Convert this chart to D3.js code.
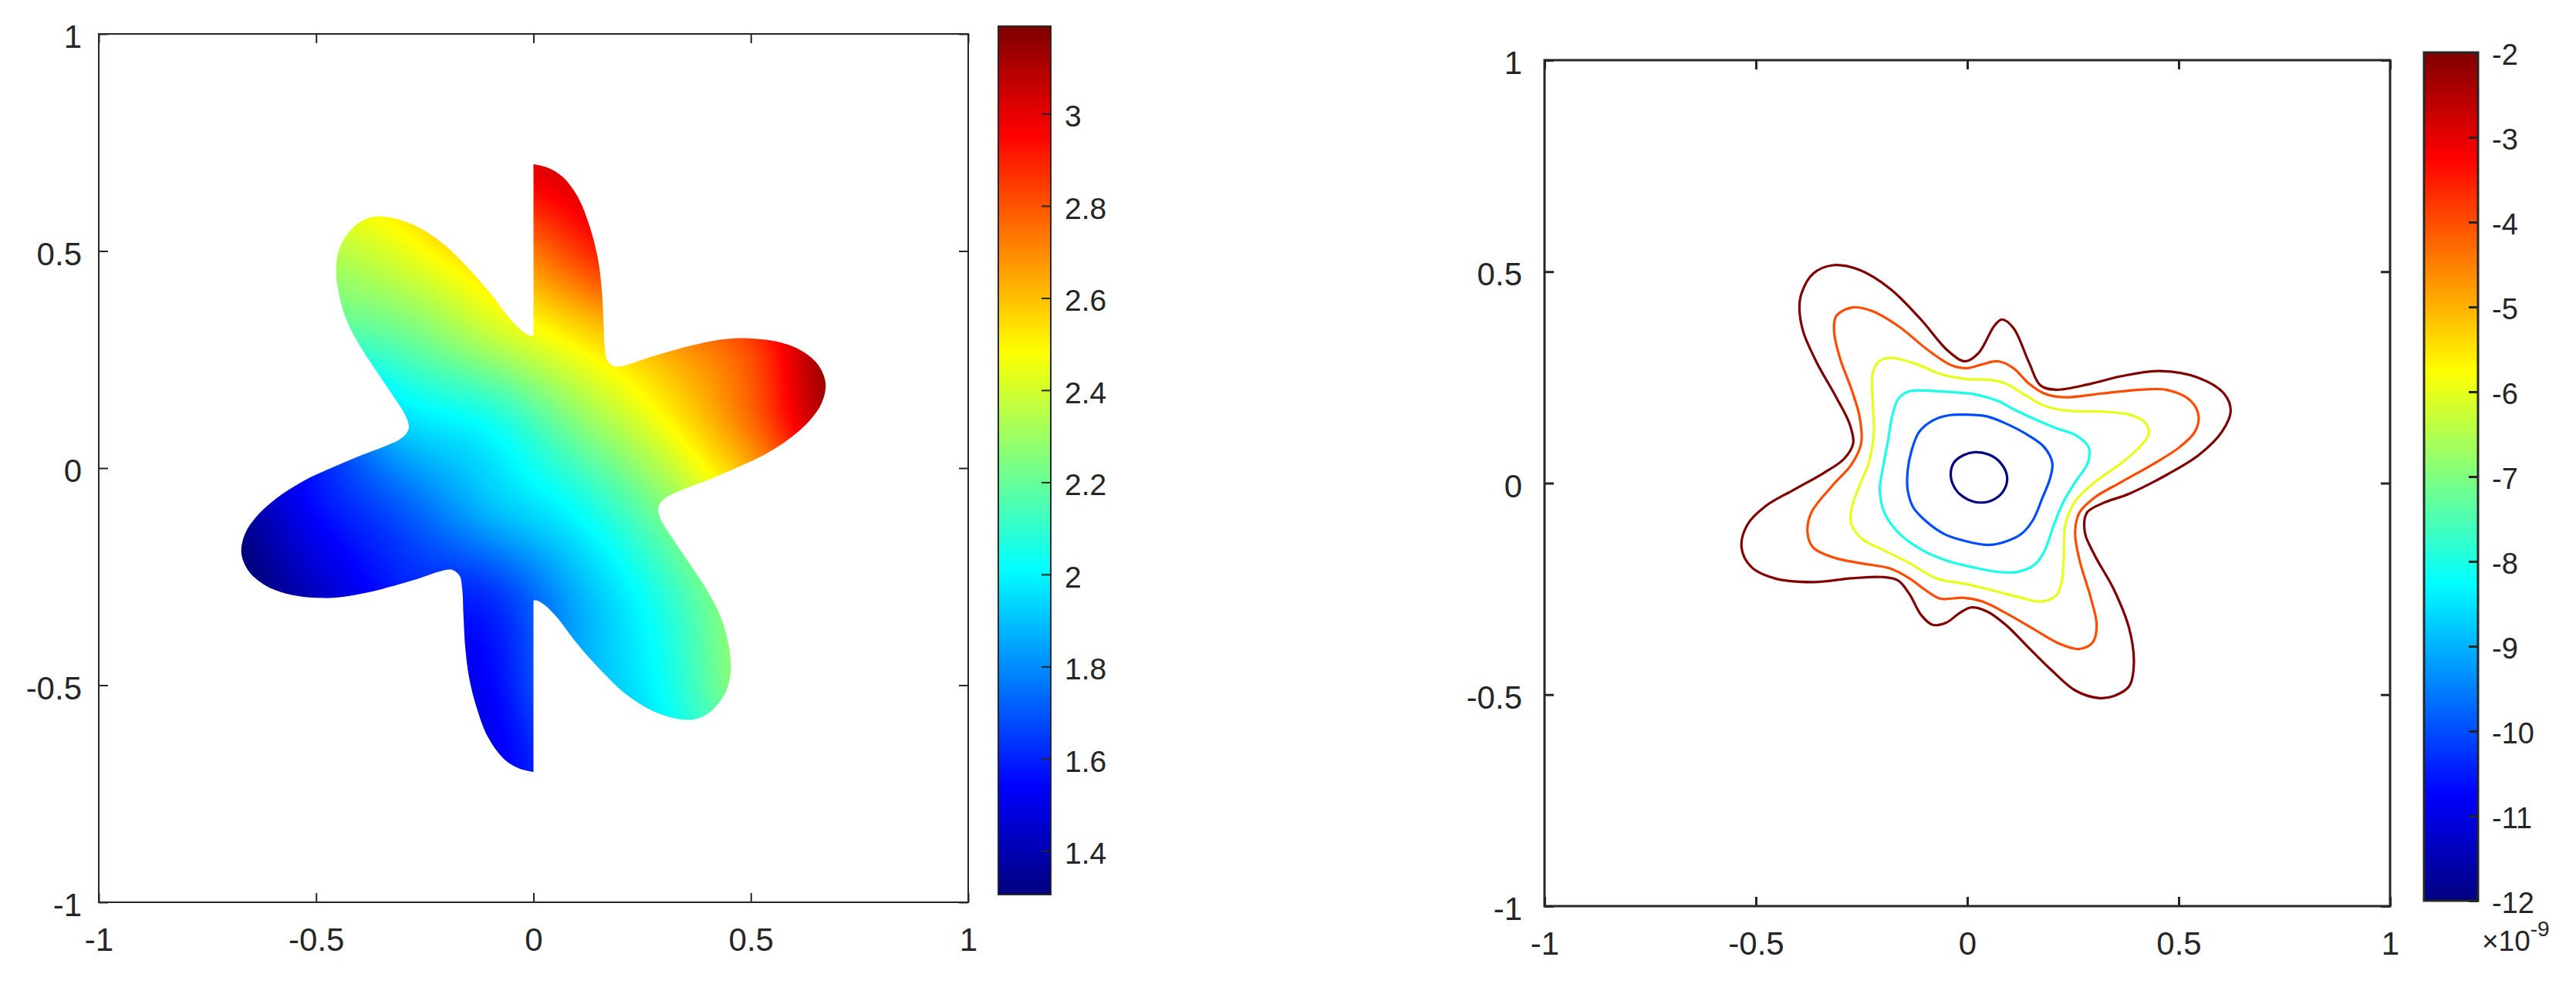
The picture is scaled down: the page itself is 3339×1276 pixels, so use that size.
<!DOCTYPE html>
<html><head><meta charset="utf-8">
<script src="https://cdn.jsdelivr.net/npm/d3@7"></script>
<style>
html,body{margin:0;padding:0;background:#fff;}
svg{display:block;}
text{font-family:"Liberation Sans",Arial,Helvetica,sans-serif;fill:#262626;}
</style></head><body>
<svg id="chart" width="3339" height="1276"></svg>
<script>
// ---------- data ----------
const axisTicks = [-1, -0.5, 0, 0.5, 1];
const axisTickLabels = ["-1", "-0.5", "0", "0.5", "1"];

// left panel: sampled field values (rows: y from 0.7 down to -0.7, cols: x from -0.7 to 0.7)
const fieldGridX = [-0.7, -0.5, -0.3, -0.1, 0.1, 0.3, 0.5, 0.7];
const fieldGridY = [0.7, 0.5, 0.3, 0.1, -0.1, -0.3, -0.5, -0.7];
const fieldValues = [
  [2.32, 2.50, 2.62, 2.95, 3.05, 3.20, 3.30, 3.40],
  [2.18, 2.32, 2.44, 2.62, 2.85, 3.05, 3.20, 3.35],
  [2.00, 2.12, 2.20, 2.36, 2.52, 2.68, 2.85, 3.20],
  [1.52, 1.67, 1.93, 2.03, 2.25, 2.47, 2.75, 3.12],
  [1.33, 1.55, 1.70, 1.88, 2.02, 2.24, 2.52, 2.80],
  [1.25, 1.42, 1.58, 1.62, 1.86, 2.08, 2.35, 2.58],
  [1.20, 1.30, 1.45, 1.54, 1.83, 2.03, 2.32, 2.55],
  [1.10, 1.20, 1.35, 1.50, 1.70, 1.98, 2.20, 2.45]
];
const fieldRange = [1.305, 3.19];
const fieldTicks = [1.4, 1.6, 1.8, 2, 2.2, 2.4, 2.6, 2.8, 3];
const fieldTickLabels = ["1.4", "1.6", "1.8", "2", "2.2", "2.4", "2.6", "2.8", "3"];

// domain boundary: right half (top slit -> bottom slit) and left half (bottom slit -> top slit)
const boundaryRight = [
  [0.000,0.700],[0.033,0.692],[0.068,0.670],[0.104,0.621],[0.130,0.554],[0.148,0.483],
  [0.157,0.412],[0.161,0.341],[0.164,0.279],[0.170,0.248],[0.188,0.234],[0.219,0.239],
  [0.263,0.254],[0.317,0.270],[0.379,0.286],[0.441,0.297],[0.494,0.299],[0.556,0.292],
  [0.610,0.274],[0.654,0.239],[0.672,0.195],[0.663,0.150],[0.636,0.110],[0.592,0.070],
  [0.530,0.030],[0.466,0.000],[0.400,-0.028],[0.342,-0.050],[0.302,-0.070],[0.287,-0.091],
  [0.293,-0.118],[0.320,-0.162],[0.359,-0.220],[0.401,-0.284],[0.432,-0.346],[0.449,-0.409],
  [0.454,-0.462],[0.444,-0.512],[0.414,-0.555],[0.385,-0.574],[0.353,-0.580],[0.287,-0.565],
  [0.218,-0.525],[0.155,-0.466],[0.097,-0.400],[0.055,-0.345],[0.025,-0.315],[0.008,-0.305],
  [0.000,-0.305]
];
const boundaryLeft = [
  [0.000,-0.700],[-0.033,-0.692],[-0.068,-0.670],[-0.104,-0.621],[-0.130,-0.554],[-0.148,-0.483],
  [-0.157,-0.412],[-0.161,-0.341],[-0.164,-0.279],[-0.170,-0.248],[-0.188,-0.234],[-0.219,-0.239],
  [-0.263,-0.254],[-0.317,-0.270],[-0.379,-0.286],[-0.441,-0.297],[-0.494,-0.299],[-0.556,-0.292],
  [-0.610,-0.274],[-0.654,-0.239],[-0.672,-0.195],[-0.663,-0.150],[-0.636,-0.110],[-0.592,-0.070],
  [-0.530,-0.030],[-0.466,0.000],[-0.400,0.028],[-0.342,0.050],[-0.302,0.070],[-0.287,0.091],
  [-0.293,0.118],[-0.320,0.162],[-0.359,0.220],[-0.401,0.284],[-0.432,0.346],[-0.449,0.409],
  [-0.454,0.462],[-0.444,0.512],[-0.414,0.555],[-0.385,0.574],[-0.353,0.580],[-0.287,0.565],
  [-0.218,0.525],[-0.155,0.466],[-0.097,0.400],[-0.055,0.345],[-0.025,0.315],[-0.008,0.305],
  [0.000,0.305]
];

// right panel: contour levels (x 1e-9) and traced contour lines
const contourLevels = [-12, -10, -8, -6, -4, -2];
const contourM12 = [[0.018,0.073],[0.050,0.068],[0.077,0.050],[0.094,0.016],[0.087,-0.016],[0.064,-0.038],[0.032,-0.046],[0.000,-0.038],[-0.026,-0.017],[-0.039,0.016],[-0.032,0.048],[-0.009,0.066]];
const contourM10 = [[-0.009,0.162],[0.046,0.158],[0.091,0.141],[0.146,0.112],[0.182,0.085],[0.201,0.048],[0.196,0.012],[0.178,-0.034],[0.155,-0.088],[0.128,-0.120],[0.091,-0.138],[0.050,-0.146],[0.000,-0.138],[-0.055,-0.120],[-0.100,-0.088],[-0.128,-0.057],[-0.141,-0.016],[-0.141,0.030],[-0.132,0.076],[-0.114,0.121],[-0.082,0.148],[-0.046,0.160]];
const contourM8 = [[-0.109,0.219],[-0.036,0.215],[0.018,0.210],[0.073,0.194],[0.109,0.175],[0.155,0.153],[0.210,0.130],[0.255,0.114],[0.287,0.085],[0.285,0.048],[0.255,0.002],[0.228,-0.043],[0.205,-0.098],[0.182,-0.162],[0.159,-0.193],[0.119,-0.210],[0.073,-0.210],[0.018,-0.200],[-0.046,-0.184],[-0.109,-0.157],[-0.164,-0.116],[-0.196,-0.070],[-0.207,-0.015],[-0.199,0.039],[-0.187,0.103],[-0.178,0.157],[-0.164,0.198],[-0.141,0.216]];
const contourM6 = [[-0.182,0.296],[-0.119,0.281],[-0.064,0.258],[0.000,0.246],[0.055,0.244],[0.091,0.235],[0.137,0.208],[0.182,0.183],[0.237,0.171],[0.319,0.169],[0.383,0.162],[0.420,0.144],[0.429,0.116],[0.411,0.089],[0.365,0.048],[0.301,0.002],[0.255,-0.043],[0.232,-0.098],[0.228,-0.180],[0.223,-0.234],[0.210,-0.266],[0.173,-0.280],[0.128,-0.271],[0.073,-0.257],[0.000,-0.239],[-0.073,-0.225],[-0.137,-0.189],[-0.201,-0.157],[-0.246,-0.134],[-0.274,-0.098],[-0.274,-0.061],[-0.255,-0.006],[-0.233,0.048],[-0.221,0.121],[-0.224,0.194],[-0.224,0.258],[-0.210,0.287]];
const contourM4 = [[-0.310,0.395],[-0.274,0.415],[-0.228,0.408],[-0.164,0.372],[-0.091,0.313],[-0.036,0.278],[0.000,0.272],[0.036,0.281],[0.073,0.288],[0.109,0.272],[0.146,0.235],[0.182,0.212],[0.228,0.203],[0.319,0.212],[0.410,0.221],[0.474,0.220],[0.529,0.194],[0.547,0.158],[0.538,0.121],[0.502,0.085],[0.438,0.044],[0.365,0.003],[0.301,-0.034],[0.265,-0.070],[0.255,-0.116],[0.265,-0.180],[0.292,-0.271],[0.306,-0.335],[0.297,-0.376],[0.265,-0.392],[0.219,-0.380],[0.155,-0.344],[0.091,-0.307],[0.036,-0.280],[-0.009,-0.271],[-0.064,-0.273],[-0.100,-0.252],[-0.137,-0.225],[-0.182,-0.202],[-0.255,-0.189],[-0.319,-0.175],[-0.365,-0.152],[-0.378,-0.116],[-0.369,-0.070],[-0.319,-0.006],[-0.274,0.044],[-0.251,0.094],[-0.255,0.158],[-0.274,0.222],[-0.301,0.295],[-0.315,0.358]];
const contourM2 = [[-0.392,0.449],[-0.365,0.495],[-0.319,0.515],[-0.255,0.504],[-0.182,0.459],[-0.109,0.386],[-0.046,0.313],[-0.005,0.288],[0.027,0.308],[0.064,0.372],[0.082,0.387],[0.109,0.367],[0.146,0.285],[0.173,0.231],[0.210,0.221],[0.292,0.235],[0.365,0.253],[0.456,0.265],[0.547,0.249],[0.607,0.212],[0.623,0.171],[0.602,0.121],[0.547,0.066],[0.474,0.021],[0.383,-0.025],[0.319,-0.048],[0.283,-0.070],[0.278,-0.116],[0.301,-0.170],[0.347,-0.252],[0.383,-0.344],[0.394,-0.426],[0.383,-0.480],[0.347,-0.503],[0.310,-0.508],[0.255,-0.490],[0.201,-0.444],[0.146,-0.390],[0.091,-0.335],[0.046,-0.303],[0.009,-0.294],[-0.018,-0.307],[-0.050,-0.330],[-0.082,-0.335],[-0.109,-0.312],[-0.137,-0.262],[-0.164,-0.230],[-0.201,-0.222],[-0.274,-0.225],[-0.365,-0.234],[-0.456,-0.225],[-0.511,-0.198],[-0.534,-0.152],[-0.520,-0.098],[-0.474,-0.052],[-0.411,-0.016],[-0.338,0.025],[-0.292,0.057],[-0.270,0.094],[-0.278,0.139],[-0.310,0.203],[-0.356,0.285],[-0.388,0.358],[-0.397,0.413]];
const contourLines = [contourM12, contourM10, contourM8, contourM6, contourM4, contourM2];
const contourRange = [-12, -2];
const contourTicks = [-12, -11, -10, -9, -8, -7, -6, -5, -4, -3, -2];
const contourTickLabels = ["-12","-11","-10","-9","-8","-7","-6","-5","-4","-3","-2"];
const exponentBase = "\u00d710";
const exponentPower = "-9";

// ---------- helpers ----------
function jet(t) {
  const c = v => Math.max(0, Math.min(1, v));
  const r = c(1.5 - Math.abs(4 * t - 3)), g = c(1.5 - Math.abs(4 * t - 2)), b = c(1.5 - Math.abs(4 * t - 1));
  return d3.rgb(Math.round(r * 255), Math.round(g * 255), Math.round(b * 255)).formatHex();
}
const INK = "#262626";
const svg = d3.select("#chart");
const defs = svg.append("defs");

function drawFrame(g, x, y, lw, yPad, xPad, fs) {
  const [x0, x1] = x.range(), [y1, y0] = y.range();
  const ax = [
    [d3.axisBottom(x).tickValues(axisTicks).tickFormat((d, i) => axisTickLabels[i]), `translate(0,${y1})`],
    [d3.axisTop(x).tickValues(axisTicks).tickFormat(""), `translate(0,${y0})`],
    [d3.axisLeft(y).tickValues(axisTicks).tickFormat((d, i) => axisTickLabels[i]), `translate(${x0},0)`],
    [d3.axisRight(y).tickValues(axisTicks).tickFormat(""), `translate(${x1},0)`]
  ];
  ax.forEach(([a, tr], k) => {
    a.tickSizeInner(-12).tickSizeOuter(0);
    if (k === 0) a.tickPadding(xPad);
    if (k === 2) a.tickPadding(yPad);
    const gg = g.append("g").attr("transform", tr).call(a);
    gg.select(".domain").remove();
    gg.selectAll(".tick line").attr("stroke", INK).attr("stroke-width", lw);
    gg.selectAll(".tick text").attr("fill", INK).style("font-size", fs + "px")
      .style("font-family", '"Liberation Sans", Arial, sans-serif');
    if (k === 2) gg.selectAll(".tick text").attr("dy", "0.42em");
    if (k === 0) gg.selectAll(".tick text").attr("dy", "0.71em");
  });
  g.append("rect").attr("x", x0).attr("y", y0).attr("width", x1 - x0).attr("height", y1 - y0)
    .attr("fill", "none").attr("stroke", INK).attr("stroke-width", lw);
}

function drawColorbar(g, id, scale, cx0, cx1, ticks, labels, lw, fs) {
  const [yb, yt] = scale.range();
  const [d0, d1] = scale.domain();
  const grad = defs.append("linearGradient").attr("id", id).attr("x1", 0).attr("y1", 1).attr("x2", 0).attr("y2", 0);
  d3.range(0, 65).forEach(i => {
    const v = d0 + (d1 - d0) * i / 64;
    grad.append("stop").attr("offset", (i / 64)).attr("stop-color", jet((v - d0) / (d1 - d0)));
  });
  g.append("rect").attr("x", cx0).attr("y", yt).attr("width", cx1 - cx0).attr("height", yb - yt)
    .attr("fill", `url(#${id})`).attr("stroke", INK).attr("stroke-width", lw);
  const a = d3.axisRight(scale).tickValues(ticks).tickFormat((d, i) => labels[i]).tickSizeInner(-12).tickSizeOuter(0).tickPadding(18);
  const gg = g.append("g").attr("transform", `translate(${cx1},0)`).call(a);
  gg.select(".domain").remove();
  gg.selectAll(".tick line").attr("stroke", INK).attr("stroke-width", lw);
  gg.selectAll(".tick text").attr("fill", INK).attr("dy", "0.42em").style("font-size", fs + "px")
    .style("font-family", '"Liberation Sans", Arial, sans-serif');
}

// ---------- left panel ----------
const xL = d3.scaleLinear().domain([-1, 1]).range([128, 1255]);
const yL = d3.scaleLinear().domain([-1, 1]).range([1170, 44]);
const colorL = d3.scaleSequential(t => jet(t)).domain(fieldRange).clamp(true);

const gL = svg.append("g");
const bLine = d3.line().x(d => xL(d[0])).y(d => yL(d[1])).curve(d3.curveCatmullRom.alpha(0.5));
const pathD = bLine(boundaryRight) + "L" + bLine(boundaryLeft).slice(1) + "Z";
defs.append("clipPath").attr("id", "flowerClip").append("path").attr("d", pathD);

// field interpolation (Catmull-Rom bicubic over the sampled grid)
const gx = d3.scaleLinear().domain([fieldGridX[0], fieldGridX[fieldGridX.length - 1]]).range([0, fieldGridX.length - 1]);
const gy = d3.scaleLinear().domain([fieldGridY[0], fieldGridY[fieldGridY.length - 1]]).range([0, fieldGridY.length - 1]);
function cr(p0, p1, p2, p3, t) {
  return 0.5 * (2 * p1 + (-p0 + p2) * t + (2 * p0 - 5 * p1 + 4 * p2 - p3) * t * t + (-p0 + 3 * p1 - 3 * p2 + p3) * t * t * t);
}
function fieldAt(x, y) {
  const nx = fieldGridX.length, ny = fieldGridY.length;
  let fx = Math.max(0, Math.min(nx - 1, gx(x))), fy = Math.max(0, Math.min(ny - 1, gy(y)));
  let i = Math.min(nx - 2, Math.floor(fx)), j = Math.min(ny - 2, Math.floor(fy));
  const tx = fx - i, ty = fy - j;
  const ci = k => Math.max(0, Math.min(nx - 1, k)), cj = k => Math.max(0, Math.min(ny - 1, k));
  const rows = [-1, 0, 1, 2].map(dj => {
    const r = fieldValues[cj(j + dj)];
    return cr(r[ci(i - 1)], r[ci(i)], r[ci(i + 1)], r[ci(i + 2)], tx);
  });
  return cr(rows[0], rows[1], rows[2], rows[3], ty);
}
const px0 = Math.floor(xL(-0.72)), px1 = Math.ceil(xL(0.72));
const py0 = Math.floor(yL(0.72)), py1 = Math.ceil(yL(-0.72));
const W = px1 - px0, H = py1 - py0;
const canvas = document.createElement("canvas");
canvas.width = W; canvas.height = H;
const ctx = canvas.getContext("2d");
const img = ctx.createImageData(W, H);
const N = 1024;
const lut = d3.range(N).map(k => d3.rgb(colorL(fieldRange[0] + (fieldRange[1] - fieldRange[0]) * k / (N - 1))));
for (let jj = 0; jj < H; jj++) {
  const yv = yL.invert(py0 + jj + 0.5);
  for (let ii = 0; ii < W; ii++) {
    const xv = xL.invert(px0 + ii + 0.5);
    const v = fieldAt(xv, yv);
    let k = Math.round((v - fieldRange[0]) / (fieldRange[1] - fieldRange[0]) * (N - 1));
    k = Math.max(0, Math.min(N - 1, k));
    const c = lut[k], o = (jj * W + ii) * 4;
    img.data[o] = c.r; img.data[o + 1] = c.g; img.data[o + 2] = c.b; img.data[o + 3] = 255;
  }
}
ctx.putImageData(img, 0, 0);
gL.append("image").attr("x", px0).attr("y", py0).attr("width", W).attr("height", H)
  .attr("preserveAspectRatio", "none")
  .attr("href", canvas.toDataURL()).attr("clip-path", "url(#flowerClip)");

drawFrame(gL, xL, yL, 2, 22, 33, 42);
const cL = d3.scaleLinear().domain(fieldRange).range([1160, 34]);
drawColorbar(gL, "gradL", cL, 1294, 1362, fieldTicks, fieldTickLabels, 2, 39);

// ---------- right panel ----------
const xR = d3.scaleLinear().domain([-1, 1]).range([2002, 3098]);
const yR = d3.scaleLinear().domain([-1, 1]).range([1175, 78]);
const colorR = d3.scaleSequential(t => jet(t)).domain(contourRange);
const gR = svg.append("g");
const cLine = d3.line().x(d => xR(d[0])).y(d => yR(d[1])).curve(d3.curveCatmullRomClosed.alpha(0.5));
gR.selectAll("path.contour").data(contourLines).join("path").attr("class", "contour")
  .attr("d", d => cLine(d)).attr("fill", "none")
  .attr("stroke", (d, i) => colorR(contourLevels[i])).attr("stroke-width", 3.2)
  .attr("stroke-linejoin", "round");
drawFrame(gR, xR, yR, 3, 29, 33, 42);
const cR = d3.scaleLinear().domain(contourRange).range([1168, 68]);
drawColorbar(gR, "gradR", cR, 3142, 3212, contourTicks, contourTickLabels, 3, 38);
const expT = gR.append("text").attr("x", 3217).attr("y", 1233).style("font-size", "37px");
expT.append("tspan").text(exponentBase);
expT.append("tspan").attr("dy", -19).style("font-size", "28px").text(exponentPower);
</script>
</body></html>
